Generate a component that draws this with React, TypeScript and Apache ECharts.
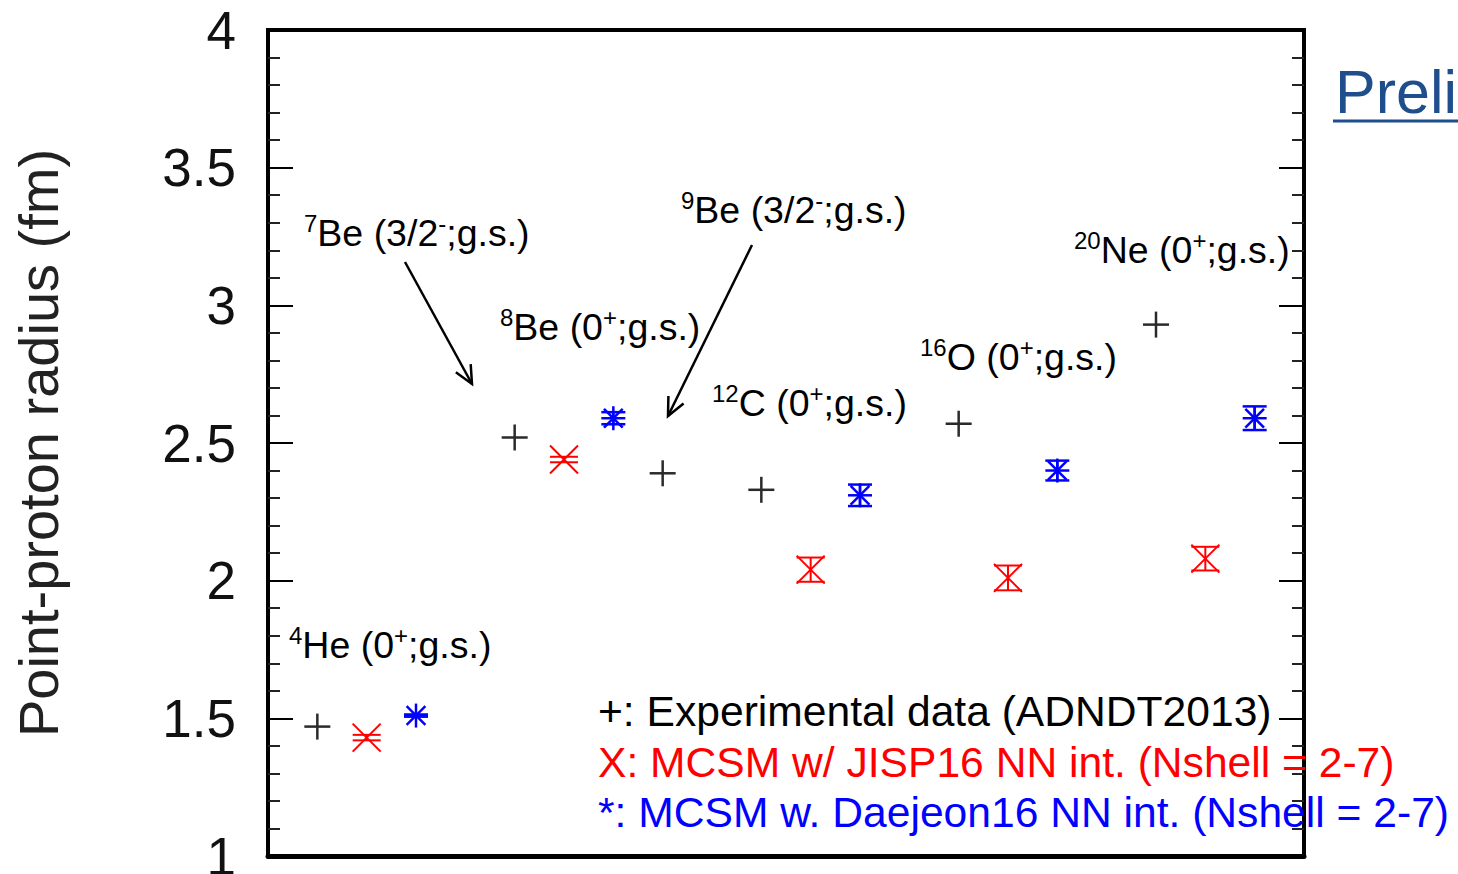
import React, { useEffect, useRef } from "react";
import * as echarts from "echarts";

// Point-proton radii (fm) on a slot axis: three slots per nucleus group
const expX = [1, 5, 8, 10, 14, 18];
const expR = [1.47, 2.52, 2.39, 2.33, 2.57, 2.93];

const jispX = [2, 6, 11, 15, 19];
const jispR = [1.43, 2.44, 2.04, 2.01, 2.08];
const jispErr = [0.01, 0.01, 0.044, 0.045, 0.043];

const daejX = [3, 7, 12, 16, 20];
const daejR = [1.51, 2.59, 2.31, 2.4, 2.59];
const daejErr = [0.004, 0.022, 0.039, 0.036, 0.043];

const yMin = 1;
const yMax = 4;
const yStep = 0.5;

const legendLines = [
  "+: Experimental data (ADNDT2013)",
  "X: MCSM w/ JISP16 NN int. (Nshell = 2-7)",
  "*: MCSM w. Daejeon16 NN int. (Nshell = 2-7)",
];
const legendColors = ["#000000", "#ff0000", "#0000ff"];

// nucleus labels in rich-text form: s = superscript, n = normal
const nucleusLabels = [
  "{s|4}{n|He (0}{s|+}{n|;g.s.)}",
  "{s|7}{n|Be (3/2}{s|-}{n|;g.s.)}",
  "{s|8}{n|Be (0}{s|+}{n|;g.s.)}",
  "{s|9}{n|Be (3/2}{s|-}{n|;g.s.)}",
  "{s|12}{n|C (0}{s|+}{n|;g.s.)}",
  "{s|16}{n|O (0}{s|+}{n|;g.s.)}",
  "{s|20}{n|Ne (0}{s|+}{n|;g.s.)}",
];

const FONT = "'Liberation Sans', Arial, Helvetica, sans-serif";

type Shape = "plus" | "cross" | "star";

function markerSeries(
  name: string,
  xs: number[],
  ys: number[],
  errs: number[] | null,
  color: string,
  shape: Shape,
  half: number,
  lw: number
) {
  return {
    type: "custom",
    name,
    coordinateSystem: "cartesian2d",
    encode: { x: 0, y: 1 },
    data: xs.map((x, i) => [x, ys[i], errs ? errs[i] : 0]),
    renderItem: (_params: any, api: any) => {
      const xv = api.value(0);
      const yv = api.value(1);
      const err = api.value(2);
      const c = api.coord([xv, yv]);
      const cx = c[0];
      const cy = c[1];
      const children: any[] = [];
      const st = { stroke: color, lineWidth: lw, fill: null };
      const seg = (x1: number, y1: number, x2: number, y2: number) =>
        children.push({ type: "line", shape: { x1, y1, x2, y2 }, style: st });
      if (shape === "plus" || shape === "star") {
        seg(cx - half, cy, cx + half, cy);
        seg(cx, cy - half, cx, cy + half);
      }
      if (shape === "cross") {
        seg(cx - half, cy - half, cx + half, cy + half);
        seg(cx - half, cy + half, cx + half, cy - half);
      }
      if (shape === "star") {
        const d = half * 0.78;
        seg(cx - d, cy - d, cx + d, cy + d);
        seg(cx - d, cy + d, cx + d, cy - d);
      }
      if (err > 0) {
        const top = api.coord([xv, yv + err])[1];
        const bot = api.coord([xv, yv - err])[1];
        seg(cx, top, cx, bot);
        seg(cx - half, top, cx + half, top);
        seg(cx - half, bot, cx + half, bot);
      }
      return { type: "group", children };
    },
  };
}

function arrow(x1: number, y1: number, x2: number, y2: number) {
  const ang = Math.atan2(y2 - y1, x2 - x1);
  const len = 20;
  const spread = (25 * Math.PI) / 180;
  const a1 = ang + Math.PI - spread;
  const a2 = ang + Math.PI + spread;
  const st = { stroke: "#000", lineWidth: 2.5, fill: null };
  return [
    { type: "line", shape: { x1, y1, x2, y2 }, style: st },
    {
      type: "polyline",
      shape: {
        points: [
          [x2 + len * Math.cos(a1), y2 + len * Math.sin(a1)],
          [x2, y2],
          [x2 + len * Math.cos(a2), y2 + len * Math.sin(a2)],
        ],
      },
      style: st,
    },
  ];
}

export default function App() {
  const ref = useRef<HTMLDivElement>(null);

  useEffect(() => {
    if (!ref.current) return;
    const chart = echarts.init(ref.current, undefined, { renderer: "svg" });

    const labelPos = [
      [289, 645],
      [304, 233],
      [500, 327],
      [681, 210],
      [712, 403],
      [920, 357],
      [1074, 250],
    ];

    const rich = {
      n: { fontSize: 37.5, lineHeight: 44, fontFamily: FONT, color: "#000", verticalAlign: "middle" },
      s: { fontSize: 24, lineHeight: 24, fontFamily: FONT, color: "#000", verticalAlign: "top" },
    };

    const tickStyle = {
      show: true,
      inside: true,
      length: 25,
      lineStyle: { color: "#000", width: 2 },
    };
    const minorStyle = {
      show: true,
      splitNumber: 5,
      length: 12,
      lineStyle: { color: "#222", width: 2 },
    };

    const option: any = {
      animation: false,
      backgroundColor: "#ffffff",
      grid: {
        left: 268,
        right: 154,
        top: 30,
        bottom: 18,
        outerBoundsMode: "none",
        containLabel: false,
        show: true,
        borderColor: "#000",
        borderWidth: 4,
        backgroundColor: "transparent",
      },
      xAxis: {
        type: "value",
        min: 0,
        max: 21,
        axisLabel: { show: false },
        axisTick: { show: false },
        splitLine: { show: false },
        axisLine: { show: true, lineStyle: { color: "#000", width: 5 } },
      },
      yAxis: [
        {
          type: "value",
          min: yMin,
          max: yMax,
          interval: yStep,
          position: "left",
          axisLine: { show: false },
          axisTick: tickStyle,
          minorTick: minorStyle,
          splitLine: { show: false },
          axisLabel: {
            show: true,
            margin: 32,
            fontSize: 53,
            fontFamily: FONT,
            color: "#111",
          },
          name: "Point-proton radius (fm)",
          nameLocation: "middle",
          nameGap: 202,
          nameTextStyle: { fontSize: 56, fontFamily: FONT, color: "#222" },
        },
        {
          type: "value",
          min: yMin,
          max: yMax,
          interval: yStep,
          position: "right",
          axisLine: { show: false },
          axisTick: tickStyle,
          minorTick: minorStyle,
          splitLine: { show: false },
          axisLabel: { show: false },
        },
      ],
      series: [
        markerSeries("Experimental", expX, expR, null, "#2a2a2a", "plus", 13, 2.5),
        markerSeries("JISP16", jispX, jispR, jispErr, "#ff0000", "cross", 14, 2),
        markerSeries("Daejeon16", daejX, daejR, daejErr, "#0000ff", "star", 12, 2.5),
      ],
      graphic: [
        ...nucleusLabels.map((t, i) => ({
          type: "text",
          x: labelPos[i][0],
          y: labelPos[i][1],
          style: { text: t, rich, align: "left", verticalAlign: "middle" },
        })),
        ...arrow(405, 262, 472, 384),
        ...arrow(752, 245, 668, 416),
        ...legendLines.map((t, i) => ({
          type: "text",
          x: 598,
          y: 711 + i * 50.5,
          style: {
            text: t,
            fontSize: 42.6,
            fontFamily: FONT,
            fill: legendColors[i],
            align: "left",
            verticalAlign: "middle",
          },
        })),
        {
          type: "text",
          x: 1335,
          y: 92,
          style: {
            text: "Preliminary",
            fontSize: 61,
            fontFamily: FONT,
            fill: "#1f4e8c",
            align: "left",
            verticalAlign: "middle",
          },
        },
        {
          type: "line",
          shape: { x1: 1333, y1: 121, x2: 1470, y2: 121 },
          style: { stroke: "#1f4e8c", lineWidth: 3 },
        },
      ],
    };

    chart.setOption(option);
    return () => chart.dispose();
  }, []);

  return (
    <div
      ref={ref}
      style={{
        position: "absolute",
        left: 0,
        top: 0,
        width: 1458,
        height: 874,
        background: "#fff",
        overflow: "hidden",
      }}
    />
  );
}
